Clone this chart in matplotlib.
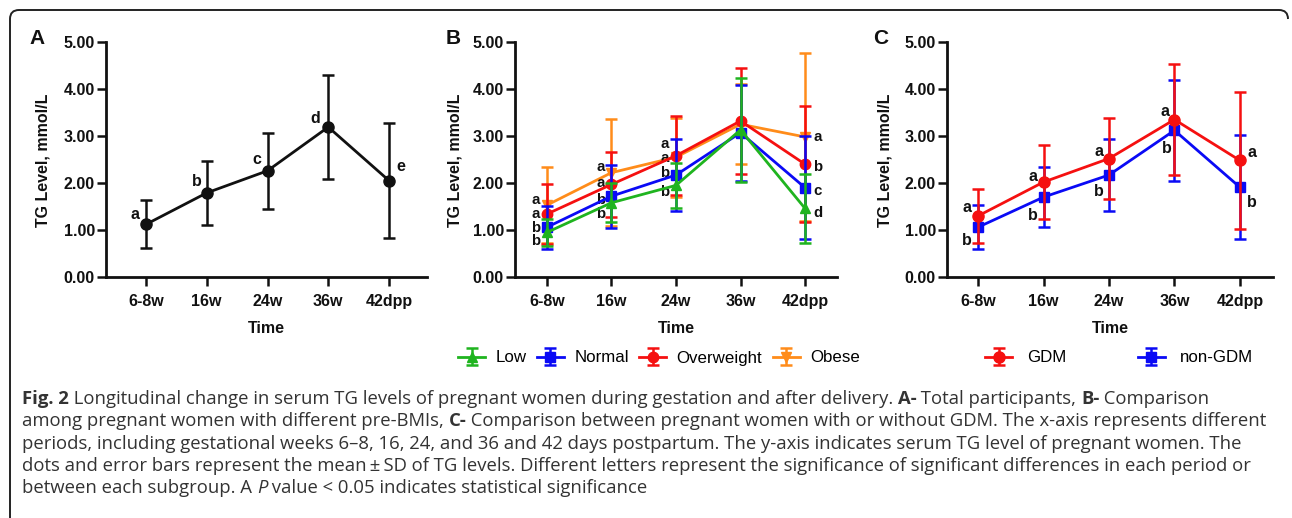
import matplotlib
matplotlib.use("Agg")
import matplotlib.pyplot as plt
import numpy as np
from matplotlib.path import Path
from matplotlib.patches import PathPatch
from matplotlib.transforms import Affine2D

# ---------------- data ----------------
times = ["6-8w", "16w", "24w", "36w", "42dpp"]

# Panel A: total participants
total_mean = [1.12, 1.79, 2.26, 3.19, 2.05]
total_sd = [0.51, 0.68, 0.81, 1.10, 1.23]
total_letters = ["a", "b", "c", "d", "e"]

# Panel B: pre-BMI groups
low_mean = [0.95, 1.58, 1.95, 3.13, 1.46]
low_sd = [0.28, 0.42, 0.48, 1.10, 0.74]
normal_mean = [1.06, 1.72, 2.17, 3.07, 1.90]
normal_sd = [0.46, 0.67, 0.76, 1.02, 1.10]
over_mean = [1.34, 1.97, 2.58, 3.32, 2.40]
over_sd = [0.63, 0.69, 0.84, 1.12, 1.24]
obese_mean = [1.53, 2.22, 2.55, 3.25, 2.98]
obese_sd = [0.80, 1.14, 0.84, 0.85, 1.78]
bmi_letters = {
    "Obese": ["a", "a", "a", "", "a"],
    "Overweight": ["a", "a", "a", "", "b"],
    "Normal": ["b", "b", "b", "", "c"],
    "Low": ["b", "b", "b", "", "d"],
}

# Panel C: GDM vs non-GDM
gdm_mean = [1.30, 2.02, 2.52, 3.35, 2.48]
gdm_sd = [0.58, 0.78, 0.87, 1.19, 1.45]
nongdm_mean = [1.06, 1.70, 2.17, 3.12, 1.91]
nongdm_sd = [0.47, 0.63, 0.77, 1.07, 1.11]
gdm_letters = ["a", "a", "a", "a", "a"]
nongdm_letters = ["b", "b", "b", "b", "b"]

yticks = [0, 1, 2, 3, 4, 5]

# ---------------- styles ----------------
W, H = 1292, 518
GREEN = "#1fb41f"
BLUE = "#0a0af5"
RED = "#f51010"
ORANGE = "#ff8c1a"
TXT = "#111111"
BOLDF = ["Liberation Sans", "DejaVu Sans"]

plt.rcParams["font.family"] = BOLDF
fig = plt.figure(figsize=(W / 100, H / 100), dpi=100)


def px_axes(left, right, top, bottom):
    return fig.add_axes([left / W, 1 - bottom / H, (right - left) / W, (bottom - top) / H])


def style_axes(ax, xlim):
    ax.set_xlim(*xlim)
    ax.set_ylim(0, 5)
    for s in ["top", "right"]:
        ax.spines[s].set_visible(False)
    for s in ["left", "bottom"]:
        ax.spines[s].set_linewidth(2.0)
        ax.spines[s].set_color(TXT)
    ax.set_xticks(range(len(times)))
    ax.set_xticklabels(times)
    ax.set_yticks(yticks)
    ax.set_yticklabels([f"{v:.2f}" for v in yticks])
    ax.tick_params(axis="both", length=6.5, width=1.8, color=TXT, labelsize=11.5,
                   labelcolor=TXT)
    ax.tick_params(axis="x", pad=6)
    ax.tick_params(axis="y", pad=1.5)
    for lab in ax.get_xticklabels() + ax.get_yticklabels():
        lab.set_fontweight("bold")
    ax.set_xlabel("Time", fontsize=11.5, fontweight="bold", color=TXT)
    ax.xaxis.set_label_coords(0.5, -0.188)


def series(ax, mean, sd, color, marker, ms, label=None, z=2):
    return ax.errorbar(range(len(mean)), mean, yerr=sd, color=color, marker=marker,
                       markersize=ms, linewidth=2.0, elinewidth=1.8, capsize=4.5,
                       capthick=1.8, label=label, zorder=z, clip_on=False)


def letters(ax, mean, labs, offsets, color=TXT, size=11.5):
    for i, (m, l) in enumerate(zip(mean, labs)):
        if not l:
            continue
        dx, dy = offsets[i]
        ax.annotate(l, (i, m), xytext=(dx, dy), textcoords="offset pixels",
                    ha="center", va="center", fontsize=size, fontweight="bold",
                    color=color, annotation_clip=False)


# ---------------- Panel A ----------------
axA = px_axes(106, 427, 42, 277)
style_axes(axA, (-0.658, 4.625))
series(axA, total_mean, total_sd, TXT, "o", 8)
letters(axA, total_mean, total_letters,
        [(-11, 10), (-10, 11), (-11, 11), (-13, 9), (12, 14)])

# ---------------- Panel B ----------------
axB = px_axes(515, 837, 42, 277)
style_axes(axB, (-0.496, 4.496))
hOb = series(axB, obese_mean, obese_sd, ORANGE, "v", 7.5, "Obese", 2)
hOv = series(axB, over_mean, over_sd, RED, "o", 7.5, "Overweight", 3)
hNo = series(axB, normal_mean, normal_sd, BLUE, "s", 7, "Normal", 4)
hLo = series(axB, low_mean, low_sd, GREEN, "^", 7.5, "Low", 5)
letters(axB, obese_mean, bmi_letters["Obese"], [(-11, 5), (-11, 6), (-11, 13), (0, 0), (13, 0)], size=10.8)
letters(axB, over_mean, bmi_letters["Overweight"], [(-11, 0), (-11, 1), (-11, -2), (0, 0), (13, -3)], size=10.8)
letters(axB, normal_mean, bmi_letters["Normal"], [(-11, -1), (-11, -4), (-11, 2), (0, 0), (13, -3)], size=10.8)
letters(axB, low_mean, bmi_letters["Low"], [(-11, -9), (-11, -11), (-11, -7), (0, 0), (13, -5)], size=10.8)

# ---------------- Panel C ----------------
axC = px_axes(947, 1273, 42, 277)
style_axes(axC, (-0.475, 4.506))
hG = series(axC, gdm_mean, gdm_sd, RED, "o", 8, "GDM", 3)
hN = series(axC, nongdm_mean, nongdm_sd, BLUE, "s", 7, "non-GDM", 2)
letters(axC, gdm_mean, gdm_letters, [(-11, 8), (-11, 6), (-10, 7), (-9, 8), (12, 8)])
letters(axC, nongdm_mean, nongdm_letters, [(-11, -13), (-11, -18), (-10, -16), (-8, -18), (12, -15)])

# y labels and panel letters
for x in [43, 455, 885]:
    fig.text(x / W, 1 - 160 / H, "TG Level, mmol/L", rotation=90, ha="center", va="center",
             fontsize=11.5, fontweight="bold", color=TXT)
for x, ch in [(37, "A"), (453, "B"), (881, "C")]:
    fig.text(x / W, 1 - 38 / H, ch, ha="center", va="center", fontsize=15,
             fontweight="bold", color=TXT)

# legends
legB = fig.legend([hLo, hNo, hOv, hOb], ["Low", "Normal", "Overweight", "Obese"],
                  loc="center left", bbox_to_anchor=(458 / W, 1 - 358 / H), ncol=4,
                  frameon=False, handlelength=1.6, handletextpad=0.6, columnspacing=0.62,
                  borderaxespad=0, borderpad=0, prop={"family": BOLDF, "size": 12.2})
legC = fig.legend([hG, hN], ["GDM", "non-GDM"],
                  loc="center left", bbox_to_anchor=(985 / W, 1 - 358 / H), ncol=2,
                  frameon=False, handlelength=1.6, handletextpad=0.9, columnspacing=4.2,
                  borderaxespad=0, borderpad=0, prop={"family": BOLDF, "size": 12.2})

# border (top + left with rounded corners)
r = 9
verts = [(10, H), (10, 10 + r), (10, 10), (10 + r, 10), (W - 4 - r, 10), (W - 4, 10), (W - 4, 10 + r)]
codes = [Path.MOVETO, Path.LINETO, Path.CURVE3, Path.CURVE3, Path.LINETO, Path.CURVE3, Path.CURVE3]
verts = [(x, H - y) for x, y in verts]
tr = Affine2D().scale(1 / W, 1 / H) + fig.transFigure
fig.patches.append(PathPatch(Path(verts, codes), fill=False, lw=1.4, edgecolor="#222222",
                             transform=tr))

# caption
cap_lines = [
    [("Fig. 2", "bold"), (" Longitudinal change in serum TG levels of pregnant women during gestation and after delivery. ", "normal"),
     ("A-", "bold"), (" Total participants, ", "normal"), ("B-", "bold"), (" Comparison", "normal")],
    [("among pregnant women with different pre-BMIs, ", "normal"), ("C-", "bold"),
     (" Comparison between pregnant women with or without GDM. The x-axis represents different", "normal")],
    [("periods, including gestational weeks 6\u20138, 16, 24, and 36 and 42 days postpartum. The y-axis indicates serum TG level of pregnant women. The", "normal")],
    [("dots and error bars represent the mean\u2009\u00b1\u2009SD of TG levels. Different letters represent the significance of significant differences in each period or", "normal")],
    [("between each subgroup. A ", "normal"), ("P", "italic"), (" value < 0.05 indicates statistical significance", "normal")],
]
renderer = fig.canvas.get_renderer()
CAPF = ["Open Sans", "DejaVu Sans"]
y0, dy = 399, 22.3
for li, line in enumerate(cap_lines):
    x = 22
    for txt, st in line:
        t = fig.text(x / W, 1 - (y0 + li * dy) / H, txt, ha="left", va="center",
                     fontsize=13.3, family=CAPF, color="#333333",
                     fontweight="bold" if st == "bold" else "normal",
                     fontstyle="italic" if st == "italic" else "normal")
        x += t.get_window_extent(renderer).width

fig.savefig("out.png", dpi=100)
